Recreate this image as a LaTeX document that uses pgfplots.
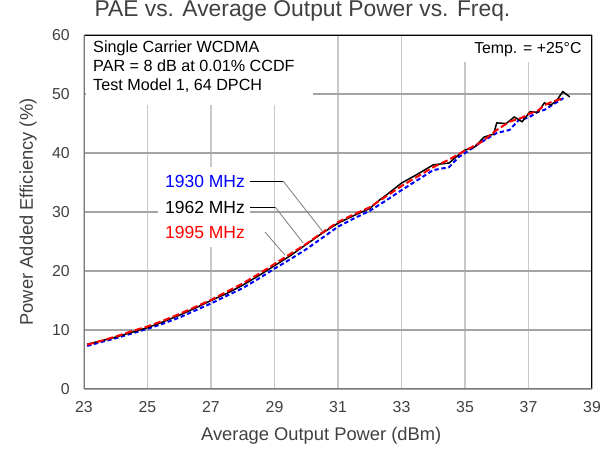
\documentclass[border=0pt]{standalone}
\usepackage{fontspec}
\setmainfont{Liberation Sans}
\usepackage{pgfplots}
\pgfplotsset{compat=1.18}

\definecolor{txt}{HTML}{404040}
\definecolor{gridv}{HTML}{C8C8C8}
\definecolor{gridh}{HTML}{A4A4A4}
\definecolor{frameg}{HTML}{7A7A7A}

\begin{document}
\begin{tikzpicture}
\useasboundingbox (-50.4pt,-36.6pt) rectangle (316.2pt,233.4pt);
\begin{axis}[
  scale only axis,
  width=304.8pt, height=212.4pt,
  xmin=23, xmax=39, ymin=0, ymax=60,
  xtick={23,25,...,39}, ytick={0,10,...,60},
  major tick length=0pt,
  axis line style={draw=none},
  xmajorgrids, ymajorgrids,
  x grid style={gridv, line width=1.1pt},
  y grid style={gridh, line width=0.7pt},
  /pgf/number format/assume math mode=true,
  tick label style={font=\fontsize{9.5}{11}\selectfont, text=txt},
  xticklabel style={yshift=-4pt},
  yticklabel style={xshift=-5pt},
  title={PAE vs. Average Output Power vs. Freq.},
  title style={at={(0.43,1)}, anchor=base, yshift=5.4pt, font=\fontsize{13.7}{15}\selectfont, text=txt},
  xlabel={Average Output Power (dBm)},
  ylabel={Power Added Efficiency (\%)},
  every axis x label/.style={at={(axis description cs:0.467,-0.133)}, anchor=center, font=\fontsize{11}{13}\selectfont, text=txt},
  every axis y label/.style={at={(axis description cs:-0.11,0.5)}, rotate=90, anchor=center, font=\fontsize{11}{13}\selectfont, text=txt},
]
% white boxes behind the notes
\fill[white] (axis cs:23.05,59.75) rectangle (axis cs:30.21,48.1);
\fill[white] (axis cs:34.2,59.75) rectangle (axis cs:38.95,55.4);
\fill[white] (axis cs:25.33,37.6) rectangle (axis cs:28.23,24.1);

% 1930 MHz
\addplot[blue, line width=1.2pt, dash pattern=on 2.6pt off 1.6pt] coordinates {
(23.1,7.3) (23.5,7.9) (24.0,8.6) (24.5,9.4) (25.0,10.2) (25.5,11.1) (26.0,12.1)
(26.5,13.3) (27.0,14.5) (27.5,15.8) (28.0,17.1) (28.5,18.7) (29.0,20.4) (29.5,22.0)
(30.0,23.7) (30.5,25.6) (31.0,27.5) (31.5,28.9) (32.0,30.2) (32.5,31.9) (33.0,33.7)
(33.5,35.4) (34.0,37.1) (34.5,37.6) (34.8,39.3) (35.0,40.0) (35.5,41.8) (36.0,43.4)
(36.4,43.9) (36.7,45.6) (37.0,46.0) (37.3,47.0) (37.5,47.3) (37.8,48.3) (38.1,49.3)
};
% 1962 MHz
\addplot[black, line width=0.9pt] coordinates {
(23.1,7.6) (23.5,8.1) (24.0,8.8) (24.5,9.6) (25.0,10.4) (25.5,11.4) (26.0,12.5)
(26.5,13.7) (27.0,15.0) (27.5,16.2) (28.0,17.6) (28.5,19.2) (29.0,20.9) (29.5,22.6)
(30.0,24.5) (30.5,26.4) (31.0,28.1) (31.5,29.4) (32.0,30.6) (32.3,32.0) (32.6,33.2)
(33.0,34.9) (33.5,36.4) (34.0,38.0) (34.5,38.3) (34.8,39.7) (35.0,40.5) (35.3,41.0)
(35.6,42.7) (35.9,43.2) (36.0,45.1) (36.3,45.0) (36.55,46.1) (36.8,45.3) (37.05,47.0)
(37.3,46.9) (37.5,48.5) (37.7,48.1) (37.9,49.0) (38.08,50.4) (38.3,49.5)
};
% 1995 MHz
\addplot[red, line width=1.2pt, dash pattern=on 4.2pt off 1.8pt] coordinates {
(23.1,7.5) (23.5,8.1) (24.0,8.9) (24.5,9.8) (25.0,10.6) (25.5,11.6) (26.0,12.7)
(26.5,13.9) (27.0,15.1) (27.5,16.5) (28.0,17.9) (28.5,19.5) (29.0,21.2) (29.5,22.9)
(30.0,24.6) (30.5,26.5) (31.0,28.3) (31.5,29.6) (32.0,30.8) (32.5,32.6) (33.0,34.4)
(33.5,36.0) (34.0,37.6) (34.5,38.9) (35.0,40.4) (35.5,41.8) (36.0,43.9) (36.4,45.3)
(36.8,46.0) (37.0,46.6) (37.3,47.2) (37.5,48.1) (37.7,48.6) (38.1,49.3)
};

% notes
\node[anchor=west, align=left, text=black, font=\fontsize{9.7}{11.4}\selectfont, inner sep=0pt]
  at (axis cs:23.28,54.6) {Single Carrier WCDMA\\PAR = 8 dB at 0.01\% CCDF\\Test Model 1, 64 DPCH};
\node[anchor=east, text=black, font=\fontsize{9.5}{11}\selectfont, inner sep=0pt]
  at (axis cs:38.68,57.6) {Temp. = +25\textdegree C};

% series labels with leader lines
\node[text=blue, font=\fontsize{10.5}{12}\selectfont, inner sep=0pt] at (axis cs:26.81,35.25) {1930 MHz};
\node[text=black, font=\fontsize{10.5}{12}\selectfont, inner sep=0pt] at (axis cs:26.81,30.85) {1962 MHz};
\node[text=red, font=\fontsize{10.5}{12}\selectfont, inner sep=0pt] at (axis cs:26.81,26.6) {1995 MHz};
\draw[black, line width=0.5pt] (axis cs:28.23,35.25) -- (axis cs:29.27,35.25);
\draw[gray, line width=0.5pt] (axis cs:29.27,35.25) -- (axis cs:30.53,26.6);
\draw[black, line width=0.5pt] (axis cs:28.23,30.85) -- (axis cs:29.02,30.85);
\draw[gray, line width=0.5pt] (axis cs:29.02,30.85) -- (axis cs:29.90,24.75);
\draw[gray, line width=0.5pt] (axis cs:28.70,26.6) -- (axis cs:29.33,22.7);

% frame
\draw[black, line width=0.9pt] (rel axis cs:0,1) -- (rel axis cs:1,1) -- (rel axis cs:1,0);
\draw[frameg, line width=1.5pt] (rel axis cs:0,1) -- (rel axis cs:0,0) -- (rel axis cs:1,0);
\end{axis}
\end{tikzpicture}
\end{document}
